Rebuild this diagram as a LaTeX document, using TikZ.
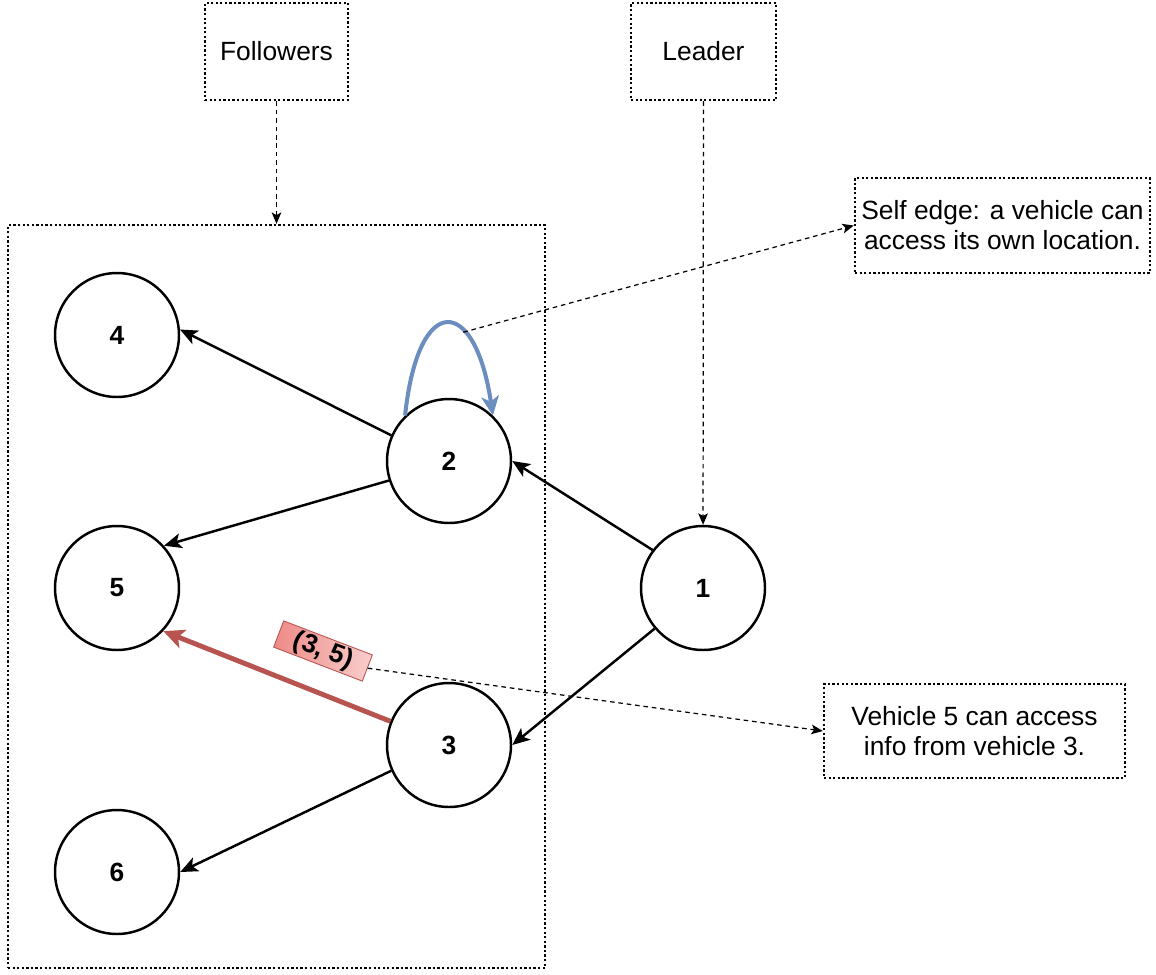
\documentclass[tikz,border=0pt]{standalone}
\usepackage{fontspec}
\setmainfont{Liberation Sans}
\usetikzlibrary{arrows.meta}
\definecolor{loopBlue}{HTML}{6C8EBF}
\definecolor{linkRed}{HTML}{B85450}
\definecolor{tagPink}{HTML}{F8CECC}
\definecolor{tagRed}{HTML}{EE8A87}

\begin{document}
\begin{tikzpicture}[
  x=0.02cm, y=-0.02cm,
  every node/.style={align=center, font=\fontsize{15}{17}\selectfont},
  veh/.style={draw, circle, line width=1.4pt, minimum size=2.48cm, inner sep=0pt, font=\fontsize{15}{17}\selectfont\bfseries},
  note/.style={draw, line width=1.4pt, dash pattern=on 1.3pt off 1.3pt, inner sep=2pt},
  link/.style={-{Stealth[length=10pt, width=8.5pt, inset=2.5pt]}, line width=1.4pt},
  hint/.style={-{Stealth[length=6.5pt, width=5.5pt, inset=1.5pt]}, line width=0.7pt, dash pattern=on 2.6pt off 2.2pt},
  tag/.style={draw=linkRed, line width=0.5pt, left color=tagRed, right color=tagPink, minimum width=1.9cm, minimum height=0.56cm, inner sep=1pt, font=\fontsize{15}{17}\selectfont\bfseries},
]
  \useasboundingbox (0,0) rectangle (1156,974);

  % labels on top
  \node[note, minimum width=2.86cm, minimum height=1.94cm] (followers) at (276.5,51.5) {Followers};
  \node[note, minimum width=2.9cm, minimum height=1.94cm] (leader) at (703.5,51.5) {Leader};
  \node[note, minimum width=10.74cm, minimum height=14.86cm] (group) at (276.5,596.5) {};
  \node[note, minimum width=5.9cm, minimum height=1.9cm] (selfnote) at (1002.5,225.5) {Self edge: a vehicle can\\access its own location.};
  \node[note, minimum width=6.02cm, minimum height=1.88cm] (vehnote) at (974.5,731) {Vehicle 5 can access\\info from vehicle 3.};

  % vehicles
  \node[veh] (n4) at (117,335) {4};
  \node[veh] (n2) at (449,461) {2};
  \node[veh] (n5) at (117,588) {5};
  \node[veh] (n1) at (703,588) {1};
  \node[veh] (n3) at (449,745) {3};
  \node[veh] (n6) at (117,872) {6};

  \draw[link] (n2.156) -- (n4.5);
  \draw[link] (n2.198) -- (n5.42);
  \draw[link] (n1.143) -- (n2.0);
  \draw[link] (n1.220) -- (n3.0);
  \draw[link] (n3.204) -- (n6.0);
  \draw[-{Stealth[length=12pt, width=11pt, inset=3pt]}, line width=2.8pt, linkRed] (n3.158) -- (n5.317);
  \draw[-{Stealth[length=11pt, width=10pt, inset=3pt]}, line width=2.3pt, loopBlue]
    (n2.134) .. controls +(13,-124) and +(-18,-121) .. coordinate[pos=0.65] (looptop) (n2.46);

  \node[tag, rotate=-21] (tag35) at (323,651) {(3, 5)};

  \draw[hint] (followers) -- (group);
  \draw[hint] (leader) -- (n1);
  \draw[hint] (looptop) -- (selfnote.west);
  \draw[hint] (tag35.east) -- (vehnote.west);
\end{tikzpicture}
\end{document}
